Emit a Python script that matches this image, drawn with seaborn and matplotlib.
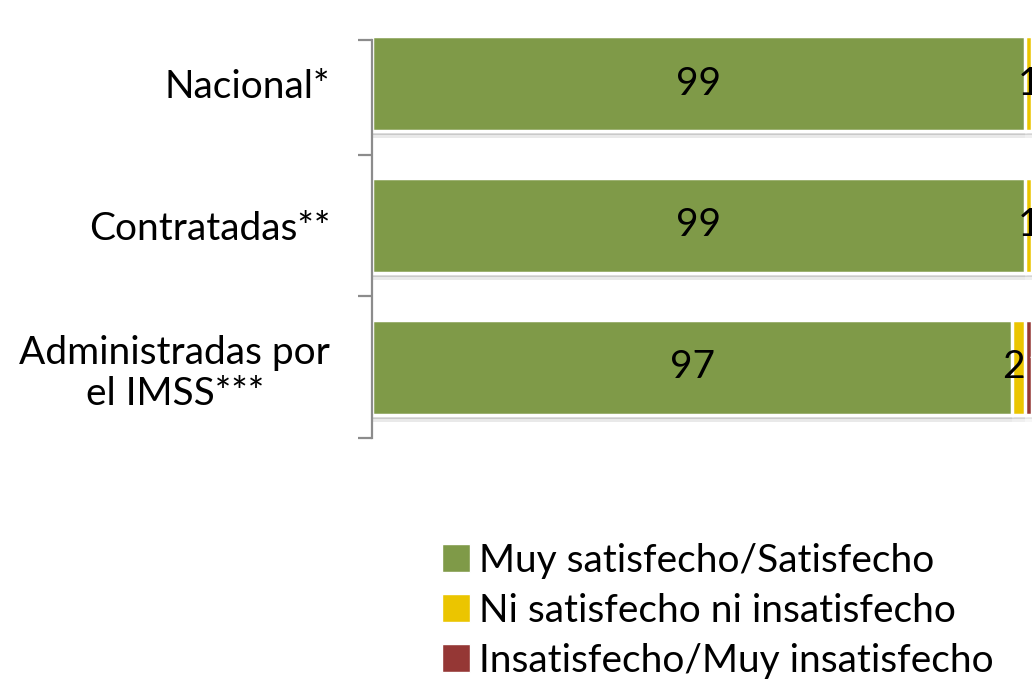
import matplotlib
matplotlib.use("Agg")
import matplotlib.pyplot as plt
import matplotlib.patheffects as pe
from matplotlib.patches import Patch
import numpy as np
import pandas as pd
import seaborn as sns

# Data
categories = ["Nacional*", "Contratadas**", "Administradas por\nel IMSS***"]
series_names = ["Muy satisfecho/Satisfecho", "Ni satisfecho ni insatisfecho", "Insatisfecho/Muy insatisfecho"]
satisfecho = [99, 99, 97]
ni_ni = [1, 1, 2]
insatisfecho = [0, 0, 1]
colors = ["#7F9A48", "#EBC500", "#953735"]
label_colors = ["black", "black", "white"]

sns.set_theme(style="white")
plt.rcParams['font.family'] = ['Lato', 'DejaVu Sans']
plt.rcParams['text.color'] = 'black'
plt.rcParams['ytick.labelcolor'] = 'black'
FS = 28

values = np.array([satisfecho, ni_ni, insatisfecho])
cum = values.cumsum(axis=0)

fig = plt.figure(figsize=(10.32, 6.81), dpi=100)
ax = fig.add_axes([372/1032, 1 - 438/681, 1 - 372/1032, (438 - 13)/681])

# Stacked bars: draw cumulative totals from the last series back to the first
for i in reversed(range(len(series_names))):
    df = pd.DataFrame({"cat": categories, "val": cum[i]})
    sns.barplot(data=df, x="val", y="cat", orient="h", color=colors[i],
                saturation=1, width=0.67, edgecolor="white", linewidth=2.5, ax=ax)

# soft drop shadow under the bars
shadow = [pe.SimplePatchShadow(offset=(0, -3), shadow_rgbFace="#B0B0B0", alpha=0.25),
          pe.SimplePatchShadow(offset=(0, -5), shadow_rgbFace="#C8C8C8", alpha=0.15),
          pe.Normal()]
for p in ax.patches:
    p.set_path_effects(shadow)

# Value labels (narrow neighbouring segments are pushed apart)
for j in range(len(categories)):
    for i in range(len(series_names)):
        v = values[i, j]
        if v <= 0:
            continue
        start, end = cum[i, j] - v, cum[i, j]
        nxt = values[i + 1, j] if i + 1 < len(series_names) else 0
        prev = values[i - 1, j] if i > 0 else 100
        if v < 3 and nxt > 0:
            x, ha = end - 0.15, "right"
        elif v < 3 and prev < 3:
            x, ha = start + 0.15, "left"
        else:
            x, ha = (start + end) / 2, "center"
        ax.text(x, j, str(v), ha=ha, va="center", fontsize=FS, color=label_colors[i])

ax.set_xlim(0, 100)
ax.set_ylim(2.5, -0.5)
ax.set_xlabel("")
ax.set_ylabel("")
ax.set_xticks([])
ax.set_yticks(range(len(categories)))
ax.set_yticklabels(categories, fontsize=FS, ha="right", multialignment="center", linespacing=1.2)
ax.tick_params(axis="y", which="major", left=False, length=0, pad=30)
ax.set_yticks([-0.31, 0.5, 1.5, 2.5], minor=True)
ax.tick_params(axis="y", which="minor", left=True, length=10, width=1.6, color="#8C8C8C")

for s in ["top", "right", "bottom"]:
    ax.spines[s].set_visible(False)
ax.spines["left"].set_color("#8C8C8C")
ax.spines["left"].set_linewidth(1.6)
ax.spines["left"].set_bounds(-0.31, 2.5)

handles = [Patch(facecolor=c, edgecolor="white") for c in colors]
fig.legend(handles, series_names, loc="upper left", bbox_to_anchor=(426/1032, 1 - 527/681),
           frameon=False, fontsize=FS, handlelength=0.72, handleheight=0.72,
           handletextpad=0.25, labelspacing=0.36, borderaxespad=0)

fig.savefig("out.png", dpi=100)
